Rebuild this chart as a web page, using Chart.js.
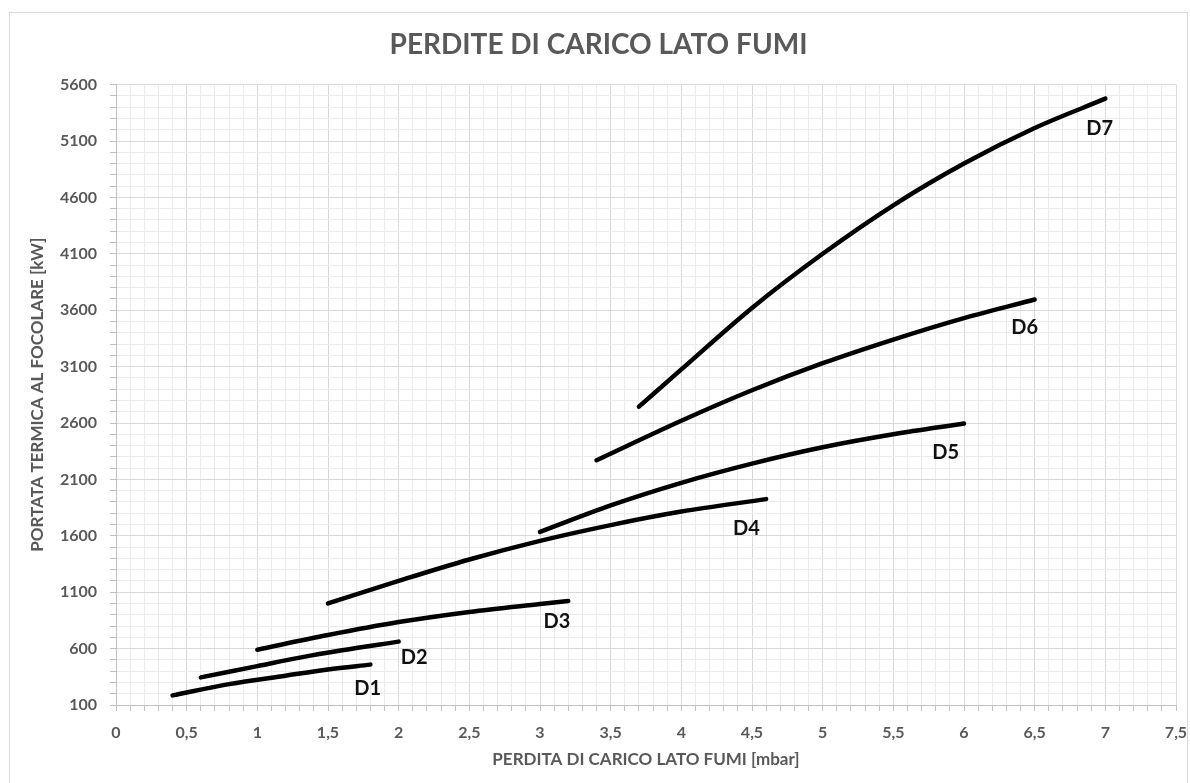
<!DOCTYPE html>
<html>
<head>
<meta charset="utf-8">
<script src="https://cdn.jsdelivr.net/npm/chart.js@4.4.1/dist/chart.umd.min.js"></script>
<style>
    html, body { margin: 0; padding: 0; background: #fff; }
    #frame {
        position: absolute; left: 9px; top: 12px;
        width: 1177px; height: 780px;
        border: 1px solid #d9d9d9;
        overflow: hidden;
    }
    #frame canvas { display: block; }
</style>
</head>
<body>
<div id="frame"><canvas id="fumiChart" width="1177" height="770"></canvas></div>
<script>
// Perdite di carico lato fumi - curve D1..D7

const seriesNames = ['D1', 'D2', 'D3', 'D4', 'D5', 'D6', 'D7'];

// pressure drop [mbar] / thermal power [kW]
const d1Mbar = [0.4, 0.8, 1.2, 1.5, 1.8];
const d1Kw   = [185, 285, 360, 415, 458];
const d2Mbar = [0.6, 1.0, 1.3, 1.6, 2.0];
const d2Kw   = [345, 445, 520, 585, 662];
const d3Mbar = [1.0, 1.5, 2.0, 2.5, 3.0, 3.2];
const d3Kw   = [590, 720, 835, 925, 995, 1022];
const d4Mbar = [1.5, 2.0, 2.5, 3.0, 3.5, 4.0, 4.6];
const d4Kw   = [1000, 1200, 1390, 1555, 1695, 1815, 1925];
const d5Mbar = [3.0, 3.5, 4.0, 4.5, 5.0, 5.5, 6.0];
const d5Kw   = [1635, 1870, 2070, 2240, 2385, 2500, 2595];
const d6Mbar = [3.4, 4.0, 4.5, 5.0, 5.5, 6.0, 6.5];
const d6Kw   = [2270, 2620, 2890, 3130, 3340, 3530, 3695];
const d7Mbar = [3.7, 4.0, 4.5, 5.0, 5.5, 6.0, 6.5, 7.0];
const d7Kw   = [2745, 3075, 3620, 4100, 4530, 4900, 5215, 5475];

// where each curve name sits (data units)
const labelMbar = [1.78, 2.11, 3.12, 4.46, 5.87, 6.43, 6.96];
const labelKw   = [250, 525, 843, 1666, 2339, 3445, 5206];

// axis limits and steps
const xMin = 0, xMax = 7.5, xMinor = 0.1, xMajor = 0.5;
const yMin = 100, yMax = 5600, yMinor = 100, yMajor = 500;

const textGrey = '#595959';
const majorGrid = '#d9d9d9';
const minorGrid = '#ebebeb';

const mbarSets = [d1Mbar, d2Mbar, d3Mbar, d4Mbar, d5Mbar, d6Mbar, d7Mbar];
const kwSets = [d1Kw, d2Kw, d3Kw, d4Kw, d5Kw, d6Kw, d7Kw];

const datasets = seriesNames.map((name, i) => ({
    label: name,
    data: mbarSets[i].map((x, j) => ({ x: x, y: kwSets[i][j] })),
    borderColor: '#000',
    borderWidth: 4.5,
    borderCapStyle: 'round',
    pointRadius: 0,
    cubicInterpolationMode: 'monotone',
    fill: false
}));

function isMajor(v, start, step) {
    const r = (v - start) / step;
    return Math.abs(r - Math.round(r)) < 1e-6;
}

// draws D1..D7 next to the curves
const curveLabels = {
    id: 'curveLabels',
    afterDatasetsDraw(chart) {
        const { ctx, scales } = chart;
        ctx.save();
        ctx.font = 'bold 20px Lato, "Open Sans", sans-serif';
        ctx.fillStyle = '#111';
        ctx.textAlign = 'center';
        ctx.textBaseline = 'middle';
        seriesNames.forEach((name, i) => {
            ctx.fillText(name, scales.x.getPixelForValue(labelMbar[i]), scales.y.getPixelForValue(labelKw[i]));
        });
        ctx.restore();
    }
};

new Chart(document.getElementById('fumiChart'), {
    type: 'line',
    data: { datasets: datasets },
    plugins: [curveLabels],
    options: {
        responsive: false,
        animation: false,
        layout: { padding: { left: 0, right: 0, top: 0, bottom: 0 } },
        plugins: {
            legend: { display: false },
            tooltip: { enabled: false },
            title: {
                display: true,
                text: 'PERDITE DI CARICO LATO FUMI',
                color: textGrey,
                font: { family: 'Lato', size: 28, weight: 'bold' },
                padding: { top: 15, bottom: 23 }
            }
        },
        scales: {
            x: {
                type: 'linear',
                min: xMin,
                max: xMax,
                afterFit: s => { s.height = 78; s.paddingRight = 11; },
                ticks: {
                    stepSize: xMinor,
                    autoSkip: false,
                    maxRotation: 0,
                    padding: 12,
                    color: textGrey,
                    font: { family: 'Lato', size: 16, weight: 'bold' },
                    callback: v => isMajor(v, xMin, xMajor) ? String(+v.toFixed(1)).replace('.', ',') : ''
                },
                grid: {
                    color: c => isMajor(c.tick.value, xMin, xMajor) ? majorGrid : minorGrid,
                    tickColor: '#bfbfbf',
                    tickLength: 6
                },
                border: { color: '#bfbfbf' },
                title: {
                    display: true,
                    text: 'PERDITA DI CARICO LATO FUMI [mbar]',
                    color: textGrey,
                    font: { family: 'Lato', size: 17, weight: 'bold' },
                    padding: { top: 0, bottom: 13 }
                }
            },
            y: {
                min: yMin,
                max: yMax,
                afterFit: s => { s.width = 106; },
                ticks: {
                    stepSize: yMinor,
                    autoSkip: false,
                    padding: 13,
                    color: textGrey,
                    font: { family: 'Lato', size: 16, weight: 'bold' },
                    callback: v => isMajor(v, yMin, yMajor) ? v : ''
                },
                grid: {
                    color: c => isMajor(c.tick.value, yMin, yMajor) ? majorGrid : minorGrid,
                    tickColor: '#bfbfbf',
                    tickLength: 6
                },
                border: { color: '#bfbfbf' },
                title: {
                    display: true,
                    text: 'PORTATA TERMICA AL FOCOLARE [kW]',
                    color: textGrey,
                    font: { family: 'Lato', size: 17, weight: 'bold' },
                    padding: { top: 17, bottom: 0 }
                }
            }
        }
    }
});
</script>
</body>
</html>
